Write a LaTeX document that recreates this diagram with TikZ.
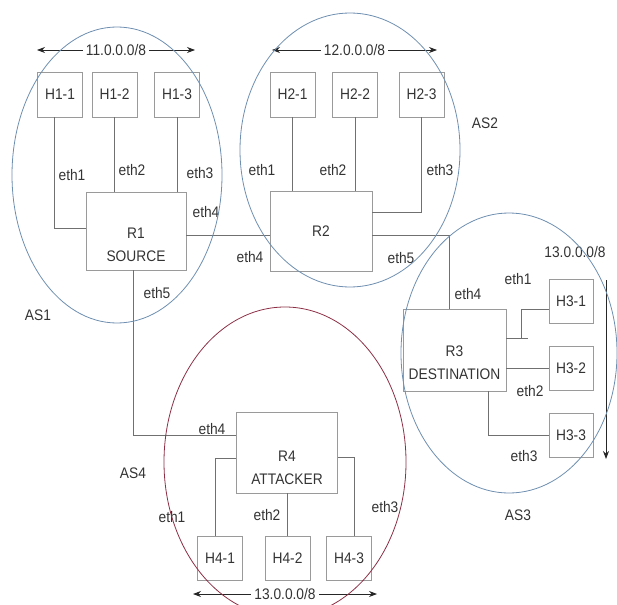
\documentclass[tikz,border=0pt]{standalone}
\usepackage{fontspec}
\setmainfont{Liberation Sans}[FakeStretch=0.9]
\usetikzlibrary{arrows.meta}
\definecolor{txtc}{HTML}{333333}
\definecolor{boxc}{HTML}{9A9A9A}
\definecolor{linec}{HTML}{707070}
\definecolor{asblue}{HTML}{6E8FB0}
\definecolor{asred}{HTML}{8C2F45}
\begin{document}
\begin{tikzpicture}[x=1pt,y=-1pt,
  font=\fontsize{15.3}{23}\selectfont, text=txtc,
  hostbox/.style={draw=boxc, line width=0.9pt, minimum width=45pt, minimum height=45pt, inner sep=0pt},
  routerbox/.style={draw=boxc, line width=0.9pt, inner sep=0pt},
  link/.style={draw=linec, line width=0.9pt},
  lbl/.style={inner sep=0pt},
  netarrow/.style={draw=black!85, line width=0.8pt, {Stealth[length=8pt,width=6pt]}-{Stealth[length=8pt,width=6pt]}},
  netarrowone/.style={draw=black!85, line width=0.8pt, -{Stealth[length=8pt,width=6pt]}},
  arrowlbl/.style={fill=white, inner xsep=3pt, inner ysep=0pt},
  asring/.style={draw=asblue, line width=0.8pt},
  asringred/.style={draw=asred, line width=0.8pt}]
\useasboundingbox (0,0) rectangle (617,604);
\clip (0,0) rectangle (617,604);

% hosts
\node[hostbox] (H11) at (60,94.5) {H1-1};
\node[hostbox] (H12) at (114.5,94.5) {H1-2};
\node[hostbox] (H13) at (177,94.5) {H1-3};
\node[hostbox] (H21) at (292.5,94.5) {H2-1};
\node[hostbox] (H22) at (355,94.5) {H2-2};
\node[hostbox] (H23) at (421.5,94.5) {H2-3};
\node[hostbox, minimum width=44pt, minimum height=44pt] (H31) at (571,301) {H3-1};
\node[hostbox, minimum width=44pt, minimum height=44pt] (H32) at (571,368) {H3-2};
\node[hostbox, minimum width=44pt, minimum height=44pt] (H33) at (571,435) {H3-3};
\node[hostbox, minimum height=44pt] (H41) at (220,558) {H4-1};
\node[hostbox, minimum height=44pt] (H42) at (287.5,558) {H4-2};
\node[hostbox, minimum height=44pt] (H43) at (349,558) {H4-3};

% routers
\node[routerbox, minimum width=100pt, minimum height=78pt] (R1) at (136,231) {};
\node[lbl, align=center] (R1t) at ([yshift=-14pt]R1.center) {R1\\SOURCE};
\node[routerbox, minimum width=102pt, minimum height=80pt] (R2) at (321,231) {R2};
\node[routerbox, minimum width=103pt, minimum height=82pt] (R3) at (454.5,350) {};
\node[lbl, align=center] (R3t) at ([yshift=-13pt]R3.center) {R3\\DESTINATION};
\node[routerbox, minimum width=101pt, minimum height=81pt] (R4) at (287,452.5) {};
\node[lbl, align=center] (R4t) at ([yshift=-15.5pt]R4.center) {R4\\ATTACKER};

% links AS1
\draw[link] ([xshift=-6pt]H11.south) |- ([yshift=3pt]R1.west);
\draw[link] (H12.south) -- (H12.south |- R1.north);
\draw[link] (H13.south) -- (H13.south |- R1.north);
\draw[link] ([yshift=-4pt]R1.east) -- ([yshift=-4pt]R2.west);
% links AS2
\draw[link] (H21.south) -- (H21.south |- R2.north);
\draw[link] (H22.south) -- (H22.south |- R2.north);
\draw[link] (H23.south) |- ([yshift=19pt]R2.east);
\draw[link] ([yshift=-4pt]R2.east) -| ([xshift=-5.5pt]R3.north);
% links AS3
\coordinate (t1) at (528,338);
\coordinate (t2) at (521,338);
\draw[link] ([yshift=12pt]R3.east) -- (t1);
\draw[link] (t2) |- ([yshift=-8pt]H31.west);
\draw[link] (R3.east |- H32.west) -- (H32.west);
\draw[link] ([xshift=33.5pt]R3.south) |- (H33.west);
% links AS4
\draw[link] ([xshift=-3pt]R1.south) |- ([yshift=17.5pt]R4.west);
\draw[link] ([yshift=-5.5pt]R4.west) -| ([xshift=-5pt]H41.north);
\draw[link] (H42.north) -- (H42.north |- R4.south);
\draw[link] ([yshift=-4.5pt]R4.east) -| ([xshift=5pt]H43.north);

% network arrows
\coordinate (n1l) at (37,50);
\coordinate (n1r) at (195,50);
\draw[netarrow] (n1l) -- node[arrowlbl] (n1t) {11.0.0.0/8} (n1r);
\coordinate (n2l) at (272,50);
\coordinate (n2r) at (437,50);
\draw[netarrow] (n2l) -- node[arrowlbl] (n2t) {12.0.0.0/8} (n2r);
\coordinate (n4l) at (193,594);
\coordinate (n4r) at (377,594);
\draw[netarrow] (n4l) -- node[arrowlbl] (n4t) {13.0.0.0/8} (n4r);
\coordinate (n3t) at (606,280);
\coordinate (n3b) at (606,459);
\draw[netarrowone] (n3t) -- (n3b);
\node[lbl] (n3lbl) at (575,252) {13.0.0.0/8};

% interface labels
\node[lbl] (l1) at (72,175) {eth1};
\node[lbl] (l2) at (132,170) {eth2};
\node[lbl] (l3) at (200,173) {eth3};
\node[lbl] (l4) at (206,212) {eth4};
\node[lbl] (l5) at (250,257) {eth4};
\node[lbl] (l6) at (157,293) {eth5};
\node[lbl] (l7) at (262,170) {eth1};
\node[lbl] (l8) at (333,170) {eth2};
\node[lbl] (l9) at (440,170) {eth3};
\node[lbl] (l10) at (401,258) {eth5};
\node[lbl] (l11) at (468,294) {eth4};
\node[lbl] (l12) at (518,279) {eth1};
\node[lbl] (l13) at (530,391) {eth2};
\node[lbl] (l14) at (524,456) {eth3};
\node[lbl] (l15) at (212,429) {eth4};
\node[lbl] (l16) at (172,517) {eth1};
\node[lbl] (l17) at (267,515) {eth2};
\node[lbl] (l18) at (385,507) {eth3};

% AS labels
\node[lbl] (as1) at (38,315) {AS1};
\node[lbl] (as2) at (485,123) {AS2};
\node[lbl] (as3) at (518,515) {AS3};
\node[lbl] (as4) at (133,473) {AS4};

% AS rings
\draw[asring] (117,175) ellipse [x radius=105pt, y radius=148pt];
\draw[asring] (350,150) ellipse [x radius=110pt, y radius=137pt];
\draw[asring] (509,353) ellipse [x radius=108pt, y radius=140pt];
\draw[asringred] (285,462) ellipse [x radius=121pt, y radius=155pt];
\end{tikzpicture}
\end{document}
